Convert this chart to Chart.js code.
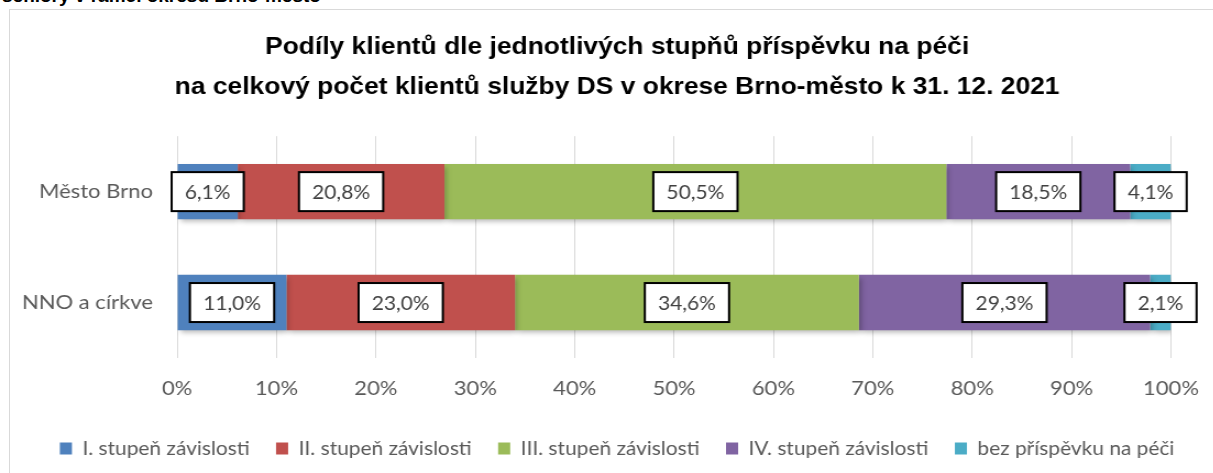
<!DOCTYPE html>
<html lang="cs">
<head>
<meta charset="utf-8">
<script src="https://cdn.jsdelivr.net/npm/chart.js@4/dist/chart.umd.min.js"></script>
<style>
  html, body { margin: 0; padding: 0; background: #fff; overflow: hidden; }
  body { width: 1213px; height: 473px; position: relative; }
  #caption {
    position: absolute; left: 2px; top: -15px;
    font: bold 19px "Liberation Sans", Arial, sans-serif; color: #000; white-space: nowrap;
  }
  #frame {
    position: absolute; left: 9px; top: 9px; width: 1220px; height: 480px;
    border: 1px solid #d9d9d9; box-sizing: border-box;
  }
  /* the chart is laid out slightly narrower and widened horizontally */
  #wrap {
    position: absolute; left: 0; top: 0; width: 1103px; height: 473px;
    transform: scale(1.1, 1); transform-origin: 0 0;
  }
</style>
</head>
<body>
<div id="caption">seniory v rámci okresu Brno-město</div>
<div id="frame"></div>
<div id="wrap"><canvas id="chart"></canvas></div>
<script>
// Providers of home-care service (rows) and care-allowance levels (stacks)
const categories = ['Město Brno', 'NNO a církve'];
const seriesNames = [
  'I. stupeň závislosti',
  'II. stupeň závislosti',
  'III. stupeň závislosti',
  'IV. stupeň závislosti',
  'bez příspěvku na péči'
];
const stupenI   = [6.1, 11.0];
const stupenII  = [20.8, 23.0];
const stupenIII = [50.5, 34.6];
const stupenIV  = [18.5, 29.3];
const bezPrisp  = [4.1, 2.1];
const xTicks = ['0%', '10%', '20%', '30%', '40%', '50%', '60%', '70%', '80%', '90%', '100%'];

const colors = ['#4F81BD', '#C0504D', '#9BBB59', '#8064A2', '#4BACC6'];
const seriesValues = [stupenI, stupenII, stupenIII, stupenIV, bezPrisp];

const sans = 'Lato, "Open Sans", sans-serif';
const labelFont = '19px ' + sans;
const fmt = v => v.toFixed(1).replace('.', ',') + '%';

// soft drop shadow under the bars
const barShadow = {
  id: 'barShadow',
  beforeDatasetDraw(chart) {
    const c = chart.ctx;
    c.save();
    c.shadowColor = 'rgba(0,0,0,0.28)';
    c.shadowBlur = 5;
    c.shadowOffsetX = 2;
    c.shadowOffsetY = 3;
  },
  afterDatasetDraw(chart) { chart.ctx.restore(); }
};

// boxed percentage labels centred on every segment
const boxedLabels = {
  id: 'boxedLabels',
  afterDatasetsDraw(chart) {
    const c = chart.ctx;
    c.save();
    c.font = labelFont;
    c.textAlign = 'center';
    c.textBaseline = 'middle';
    chart.data.datasets.forEach((ds, di) => {
      chart.getDatasetMeta(di).data.forEach((bar, i) => {
        const txt = fmt(ds.data[i]);
        const x = (bar.x + bar.base) / 2;
        const y = bar.y;
        const w = c.measureText(txt).width + 24;
        const h = 39;
        c.fillStyle = '#fff';
        c.fillRect(x - w / 2, y - h / 2, w, h);
        c.lineWidth = 2;
        c.strokeStyle = '#000';
        c.strokeRect(x - w / 2, y - h / 2, w, h);
        c.fillStyle = '#404040';
        c.fillText(txt, x, y + 1);
      });
    });
    c.restore();
  }
};

new Chart(document.getElementById('chart'), {
  type: 'bar',
  data: {
    labels: categories,
    datasets: seriesNames.map((name, k) => ({
      label: name,
      data: seriesValues[k],
      backgroundColor: colors[k],
      borderWidth: 0,
      barPercentage: 1,
      categoryPercentage: 0.5
    }))
  },
  options: {
    indexAxis: 'y',
    responsive: true,
    maintainAspectRatio: false,
    animation: false,
    layout: { padding: { left: 19, right: 0, top: 0, bottom: 5 } },
    scales: {
      x: {
        stacked: true,
        min: 0,
        max: 100,
        border: { display: false },
        grid: { color: '#d9d9d9', lineWidth: 1, drawTicks: false },
        ticks: {
          stepSize: 10,
          padding: 19,
          color: '#595959',
          font: { family: sans, size: 20 },
          callback: (v, i) => xTicks[i]
        },
        afterFit(scale) {
          scale.height = 57;
          scale.paddingRight = 38.5;
        }
      },
      y: {
        stacked: true,
        border: { display: false },
        grid: { display: false, drawTicks: false },
        ticks: {
          padding: 22,
          color: '#595959',
          font: { family: sans, size: 20 }
        },
        afterFit(scale) { scale.width = 142; }
      }
    },
    plugins: {
      title: {
        display: true,
        text: [
          'Podíly klientů dle jednotlivých stupňů příspěvku na péči',
          'na celkový počet klientů služby DS v okrese Brno-město k 31. 12. 2021'
        ],
        color: '#000',
        font: { family: '"Liberation Sans", Arial, sans-serif', size: 24, weight: 'bold', lineHeight: 1.67 },
        padding: { top: 27, bottom: 29 }
      },
      legend: {
        position: 'bottom',
        labels: {
          boxWidth: 11,
          boxHeight: 12,
          padding: 24,
          color: '#595959',
          font: { family: sans, size: 19 }
        }
      },
      tooltip: { enabled: false }
    }
  },
  plugins: [barShadow, boxedLabels]
});
</script>
</body>
</html>
